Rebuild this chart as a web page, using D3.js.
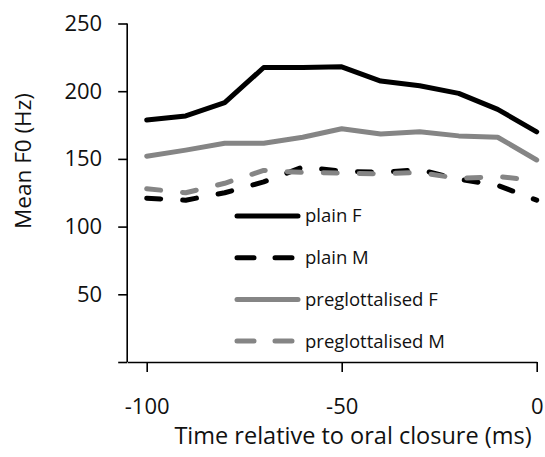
<!DOCTYPE html>
<html><head><meta charset="utf-8">
<script src="https://cdn.jsdelivr.net/npm/d3@7"></script>
<style>
html,body{margin:0;padding:0;background:#fff;}
text{font-family:"Open Sans",sans-serif;fill:#111;}
</style></head>
<body>
<svg id="chart" width="545" height="457"></svg>
<script>
const times = [-100,-90,-80,-70,-60,-50,-40,-30,-20,-10,0];
const plainF = [178.7,181.7,191.5,217.5,217.5,218,207.5,204,198.4,186.6,170];
const plainM = [121,119.5,125,133,144,141,140,142,135,130.5,119.5];
const preglotF = [152,156.5,161.5,161.5,166,172.3,168.4,170,167,166,149.2];
const preglotM = [128,125,132,141.5,140,139.5,139,140,135.5,137,134];
const seriesNames = ["plain F","plain M","preglottalised F","preglottalised M"];
const seriesValues = [plainF, plainM, preglotF, preglotM];
const seriesColors = ["#000000","#000000","#858585","#858585"];
const seriesDashed = [false,true,false,true];
const yTicks = [0,50,100,150,200,250];
const xTicks = [-100,-50,0];
const xTitle = "Time relative to oral closure (ms)";
const yTitle = "Mean F0 (Hz)";

const svg = d3.select("#chart");
const x = d3.scaleLinear().domain([-105,0]).range([127.2,536.7]);
const y = d3.scaleLinear().domain([0,250]).range([362,23.5]);

// y axis
const yAxis = svg.append("g").attr("transform",`translate(${x(-105)},0)`)
  .call(d3.axisLeft(y).tickValues(yTicks).tickSize(9).tickPadding(16)
    .tickFormat(d => d === 0 ? "" : String(d)));
// x axis
const xAxis = svg.append("g").attr("transform",`translate(0,${y(0)})`)
  .call(d3.axisBottom(x).tickValues(xTicks).tickSize(10).tickPadding(26).tickSizeOuter(0)
    .tickFormat(d => String(d)));
[yAxis,xAxis].forEach(g=>{
  g.selectAll("path.domain").attr("stroke","#000").attr("stroke-width",1.6);
  g.selectAll(".tick line").attr("stroke","#000").attr("stroke-width",1.6);
  g.selectAll(".tick text").attr("font-size",22).attr("font-family","Open Sans").attr("fill","#111");
});
yAxis.select("path.domain").attr("d",`M0,${y(250)}V${y(0)}`);
yAxis.selectAll(".tick line").attr("x2",-9);

// titles
svg.append("text").attr("x",353).attr("y",444).attr("text-anchor","middle")
  .attr("font-size",23.5).text(xTitle);
svg.append("text").attr("transform",`translate(31,161) rotate(-90)`).attr("text-anchor","middle")
  .attr("font-size",22.5).text(yTitle);

// lines
const line = d3.line().x((d,i)=>x(times[i])).y(d=>y(d));
seriesValues.forEach((vals,k)=>{
  svg.append("path").datum(vals).attr("d",line)
    .attr("fill","none").attr("stroke",seriesColors[k]).attr("stroke-width",5)
    .attr("stroke-linecap","round").attr("stroke-linejoin","round")
    .attr("stroke-dasharray", seriesDashed[k] ? "14,22" : null);
});

// legend
const legend = svg.append("g");
seriesNames.forEach((name,k)=>{
  const ly = 216 + k*41.7;
  legend.append("line").attr("x1",237).attr("x2",298).attr("y1",ly).attr("y2",ly)
    .attr("stroke",seriesColors[k]).attr("stroke-width",5).attr("stroke-linecap","round")
    .attr("stroke-dasharray", seriesDashed[k] ? "17,21" : null);
  legend.append("text").attr("x",305).attr("y",ly).attr("dy","0.35em")
    .attr("font-size",18.5).text(name);
});
</script>
</body></html>
